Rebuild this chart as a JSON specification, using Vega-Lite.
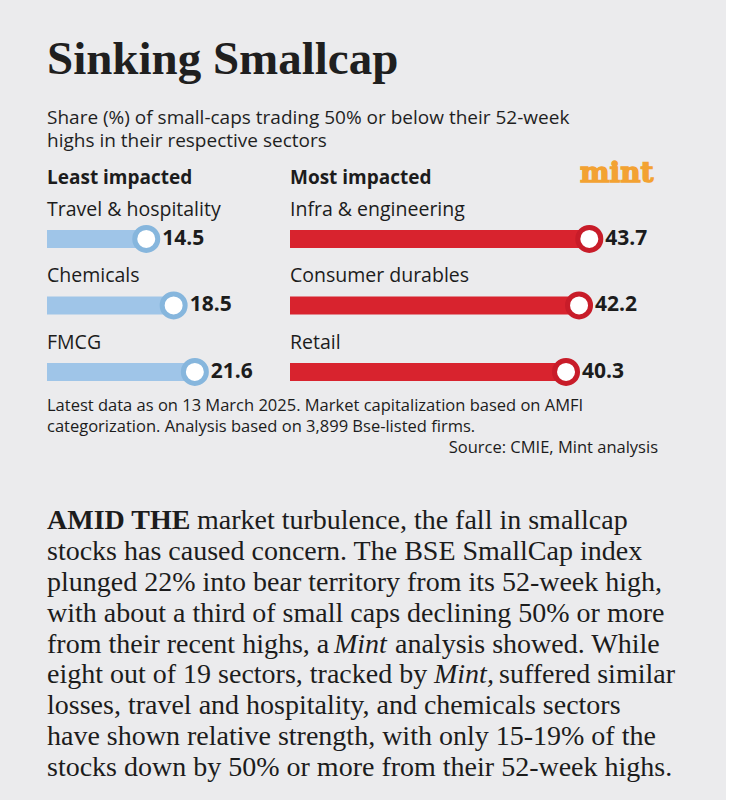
{
  "$schema": "https://vega.github.io/schema/vega-lite/v6.json",
  "background": "#ebebed",
  "padding": {"left": 38, "top": 36, "right": 36, "bottom": 17},
  "title": {
    "text": "Sinking Smallcap",
    "subtitle": ["Share (%) of small-caps trading 50% or below their 52-week", "highs in their respective sectors"],
    "anchor": "start",
    "dx": 9,
    "font": "Liberation Serif",
    "fontSize": 47,
    "fontWeight": "bold",
    "color": "#1f1f1f",
    "subtitleFont": "Open Sans",
    "subtitleFontSize": 19,
    "subtitleColor": "#1f1f1f",
    "subtitlePadding": 25,
    "subtitleLineHeight": 23,
    "offset": 8
  },
  "config": {"view": {"stroke": null}},
  "datasets": {
    "least": [
      {"sector": "Travel & hospitality", "share": 14.5},
      {"sector": "Chemicals", "share": 18.5},
      {"sector": "FMCG", "share": 21.6}
    ],
    "most": [
      {"sector": "Infra & engineering", "share": 43.7},
      {"sector": "Consumer durables", "share": 42.2},
      {"sector": "Retail", "share": 40.3}
    ],
    "notes": [
      {"line": 1, "text": "Latest data as on 13 March 2025. Market capitalization based on AMFI"},
      {"line": 2, "text": "categorization. Analysis based on 3,899 Bse-listed firms."},
      {"line": 3, "text": "Source: CMIE, Mint analysis"}
    ],
    "body": [
      {"line": 1, "lead": "AMID THE", "text": "market turbulence, the fall in smallcap", "em": "", "tail": ""},
      {"line": 2, "lead": "", "text": "stocks has caused concern. The BSE SmallCap index", "em": "", "tail": ""},
      {"line": 3, "lead": "", "text": "plunged 22% into bear territory from its 52-week high,", "em": "", "tail": ""},
      {"line": 4, "lead": "", "text": "with about a third of small caps declining 50% or more", "em": "", "tail": ""},
      {"line": 5, "lead": "", "text": "from their recent highs, a", "em": "Mint", "tail": "analysis showed. While"},
      {"line": 6, "lead": "", "text": "eight out of 19 sectors, tracked by", "em": "Mint,", "tail": "suffered similar"},
      {"line": 7, "lead": "", "text": "losses, travel and hospitality, and chemicals sectors", "em": "", "tail": ""},
      {"line": 8, "lead": "", "text": "have shown relative strength, with only 15-19% of the", "em": "", "tail": ""},
      {"line": 9, "lead": "", "text": "stocks down by 50% or more from their 52-week highs.", "em": "", "tail": ""}
    ]
  },
  "spacing": 48,
  "vconcat": [
    {
      "spacing": 0,
      "vconcat": [
        {
          "spacing": 4,
          "hconcat": [
            {
              "width": 230,
              "height": 229.5,
              "data": {"name": "least"},
              "encoding": {
                "y": {"field": "sector", "type": "nominal", "sort": null, "axis": null, "scale": {"type": "band", "paddingInner": 0, "paddingOuter": 0.2256, "align": 1}, "bandPosition": 0.66},
                "x": {"field": "share", "type": "quantitative", "axis": null, "scale": {"domain": [0, 33.6]}}
              },
              "layer": [
                {"mark": {"type": "rule", "color": "#9fc5e8", "strokeWidth": 18, "strokeCap": "butt"}, "encoding": {"x2": {"datum": 0}}},
                {"mark": {"type": "point", "shape": "circle", "filled": true, "fill": "#ffffff", "stroke": "#86b6dd", "strokeWidth": 5, "size": 529, "opacity": 1}},
                {"mark": {"type": "text", "align": "left", "baseline": "middle", "dx": 16, "font": "Open Sans", "fontSize": 21, "fontWeight": "bold", "color": "#1c1c1c"}, "encoding": {"text": {"field": "share", "type": "quantitative", "format": ".1f"}}},
                {"mark": {"type": "text", "align": "left", "baseline": "middle", "font": "Open Sans", "fontSize": 19.5, "color": "#1c1c1c"}, "encoding": {"x": {"datum": 0}, "y": {"field": "sector", "type": "nominal", "sort": null, "axis": null, "bandPosition": 0.22}, "text": {"field": "sector"}}},
                {
                  "transform": [{"filter": "datum.sector == 'Travel & hospitality'"}],
                  "mark": {"type": "text", "align": "left", "baseline": "middle", "font": "Open Sans", "fontSize": 19, "fontWeight": "bold", "color": "#1c1c1c", "dy": -17},
                  "encoding": {"x": {"datum": 0}, "y": {"field": "sector", "type": "nominal", "sort": null, "axis": null, "bandPosition": 0}, "text": {"value": "Least impacted"}}
                }
              ]
            },
            {
              "width": 400,
              "height": 229.5,
              "data": {"name": "most"},
              "encoding": {
                "y": {"field": "sector", "type": "nominal", "sort": null, "axis": null, "scale": {"type": "band", "paddingInner": 0, "paddingOuter": 0.2256, "align": 1}, "bandPosition": 0.66},
                "x": {"field": "share", "type": "quantitative", "axis": null, "scale": {"domain": [0, 58.4]}}
              },
              "layer": [
                {"mark": {"type": "rule", "color": "#d8232e", "strokeWidth": 18, "strokeCap": "butt"}, "encoding": {"x2": {"datum": 0}}},
                {"mark": {"type": "point", "shape": "circle", "filled": true, "fill": "#ffffff", "stroke": "#c81c29", "strokeWidth": 5, "size": 529, "opacity": 1}},
                {"mark": {"type": "text", "align": "left", "baseline": "middle", "dx": 16, "font": "Open Sans", "fontSize": 21, "fontWeight": "bold", "color": "#1c1c1c"}, "encoding": {"text": {"field": "share", "type": "quantitative", "format": ".1f"}}},
                {"mark": {"type": "text", "align": "left", "baseline": "middle", "font": "Open Sans", "fontSize": 19.5, "color": "#1c1c1c"}, "encoding": {"x": {"datum": 0}, "y": {"field": "sector", "type": "nominal", "sort": null, "axis": null, "bandPosition": 0.22}, "text": {"field": "sector"}}},
                {
                  "transform": [{"filter": "datum.sector == 'Infra & engineering'"}],
                  "mark": {"type": "text", "align": "left", "baseline": "middle", "font": "Open Sans", "fontSize": 19, "fontWeight": "bold", "color": "#1c1c1c", "dy": -17},
                  "encoding": {"x": {"datum": 0}, "y": {"field": "sector", "type": "nominal", "sort": null, "axis": null, "bandPosition": 0}, "text": {"value": "Most impacted"}}
                },
                {
                  "transform": [{"filter": "datum.sector == 'Infra & engineering'"}],
                  "mark": {"type": "text", "align": "center", "baseline": "middle", "font": "DejaVu Serif", "fontSize": 28, "fontWeight": "bold", "fill": "#f3a232", "stroke": "#f3a232", "strokeWidth": 1.4, "dy": -21},
                  "encoding": {"x": {"datum": 47.7}, "y": {"field": "sector", "type": "nominal", "sort": null, "axis": null, "bandPosition": 0}, "text": {"value": "mint"}}
                }
              ]
            }
          ]
        },
        {
          "width": 611,
          "height": 63,
          "data": {"name": "notes"},
          "encoding": {
            "y": {"field": "line", "type": "ordinal", "axis": null, "scale": {"type": "band", "paddingInner": 0, "paddingOuter": 0}},
            "text": {"field": "text"}
          },
          "layer": [
            {"transform": [{"filter": "datum.line < 3"}], "mark": {"type": "text", "align": "left", "baseline": "middle", "font": "Open Sans", "fontSize": 16.5, "color": "#1c1c1c"}, "encoding": {"x": {"value": 0}}},
            {"transform": [{"filter": "datum.line == 3"}], "mark": {"type": "text", "align": "right", "baseline": "middle", "font": "Open Sans", "fontSize": 16.5, "color": "#1c1c1c"}, "encoding": {"x": {"value": "width"}}}
          ]
        }
      ]
    },
    {
      "width": 643,
      "height": 277,
      "data": {"name": "body"},
      "encoding": {
        "y": {"field": "line", "type": "ordinal", "axis": null, "scale": {"type": "band", "paddingInner": 0, "paddingOuter": 0}},
        "x": {"value": 0}
      },
      "layer": [
        {"transform": [{"filter": "datum.line == 1"}], "mark": {"type": "text", "align": "left", "baseline": "middle", "font": "Liberation Serif", "fontSize": 28, "fontWeight": "bold", "color": "#1c1c1c"}, "encoding": {"text": {"field": "lead"}}},
        {"transform": [{"filter": "datum.line == 1"}], "mark": {"type": "text", "align": "left", "baseline": "middle", "dx": 150, "font": "Liberation Serif", "fontSize": 28, "color": "#1c1c1c"}, "encoding": {"text": {"field": "text"}}},
        {"transform": [{"filter": "datum.line > 1"}], "mark": {"type": "text", "align": "left", "baseline": "middle", "font": "Liberation Serif", "fontSize": 28, "color": "#1c1c1c"}, "encoding": {"text": {"field": "text"}}},
        {"transform": [{"filter": "datum.line == 5"}], "mark": {"type": "text", "align": "left", "baseline": "middle", "dx": 287, "font": "Liberation Serif", "fontSize": 28, "fontStyle": "italic", "color": "#1c1c1c"}, "encoding": {"text": {"field": "em"}}},
        {"transform": [{"filter": "datum.line == 5"}], "mark": {"type": "text", "align": "left", "baseline": "middle", "dx": 348, "font": "Liberation Serif", "fontSize": 28, "color": "#1c1c1c"}, "encoding": {"text": {"field": "tail"}}},
        {"transform": [{"filter": "datum.line == 6"}], "mark": {"type": "text", "align": "left", "baseline": "middle", "dx": 387, "font": "Liberation Serif", "fontSize": 28, "fontStyle": "italic", "color": "#1c1c1c"}, "encoding": {"text": {"field": "em"}}},
        {"transform": [{"filter": "datum.line == 6"}], "mark": {"type": "text", "align": "left", "baseline": "middle", "dx": 452, "font": "Liberation Serif", "fontSize": 28, "color": "#1c1c1c"}, "encoding": {"text": {"field": "tail"}}}
      ]
    }
  ]
}
